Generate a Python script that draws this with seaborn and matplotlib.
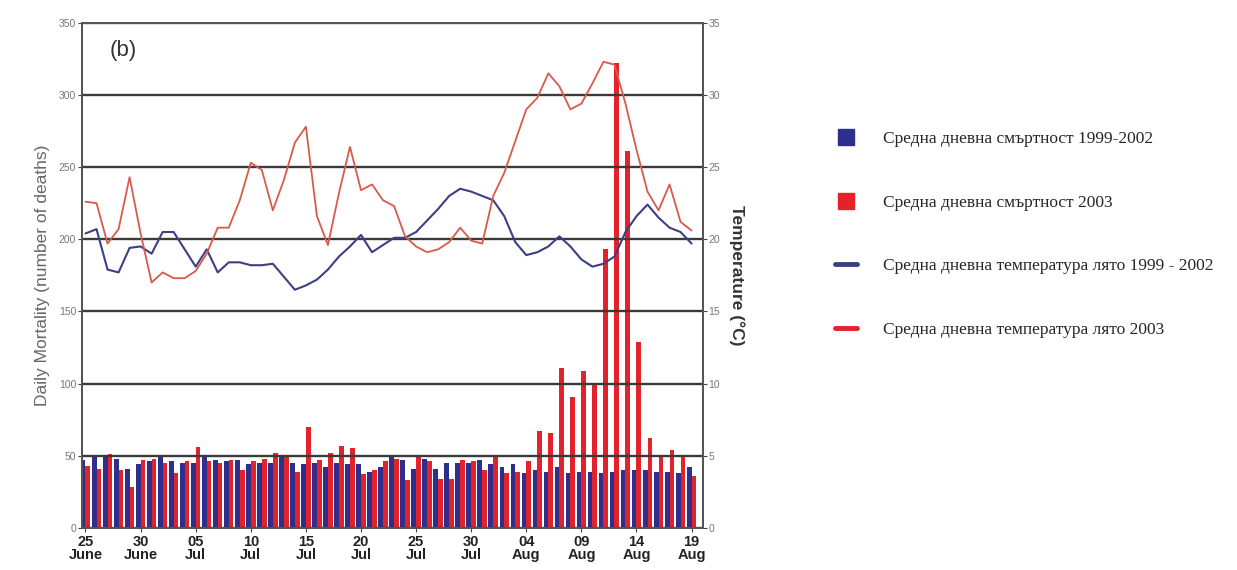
import numpy as np
import pandas as pd
import matplotlib
matplotlib.use('Agg')
import matplotlib.pyplot as plt
from matplotlib.lines import Line2D
import seaborn as sns

# daily values, 25 June .. 19 August
deaths_base = [47, 49, 49, 48, 41, 44, 46, 49, 46, 45, 45, 49, 47, 46, 47, 44,
               45, 45, 50, 45, 44, 45, 42, 45, 44, 44, 39, 42, 49, 47, 41, 48,
               41, 45, 45, 45, 47, 44, 42, 44, 38, 40, 39, 42, 38, 39, 39, 38,
               39, 40, 40, 40, 39, 39, 38, 42]
deaths_2003 = [43, 41, 51, 40, 28, 47, 48, 45, 38, 46, 56, 46, 45, 47, 40, 46,
               48, 52, 50, 39, 70, 47, 52, 57, 55, 37, 40, 46, 48, 33, 50, 46,
               34, 34, 47, 46, 40, 49, 38, 39, 46, 67, 66, 111, 91, 109, 99, 193,
               322, 261, 129, 62, 49, 54, 49, 36]
temp_base = [20.4, 20.7, 17.9, 17.7, 19.4, 19.5, 19.0, 20.5, 20.5, 19.3, 18.1,
             19.3, 17.7, 18.4, 18.4, 18.2, 18.2, 18.3, 17.4, 16.5, 16.8, 17.2,
             17.9, 18.8, 19.5, 20.3, 19.1, 19.6, 20.1, 20.1, 20.5, 21.3, 22.1,
             23.0, 23.5, 23.3, 23.0, 22.7, 21.6, 19.8, 18.9, 19.1, 19.5, 20.2,
             19.5, 18.6, 18.1, 18.3, 18.8, 20.5, 21.6, 22.4, 21.5, 20.8, 20.5,
             19.7]
temp_2003 = [22.6, 22.5, 19.7, 20.7, 24.3, 20.4, 17.0, 17.7, 17.3, 17.3, 17.8,
             19.0, 20.8, 20.8, 22.7, 25.3, 24.8, 22.0, 24.1, 26.7, 27.8, 21.6,
             19.6, 23.2, 26.4, 23.4, 23.8, 22.7, 22.3, 20.2, 19.5, 19.1, 19.3,
             19.8, 20.8, 19.9, 19.7, 23.0, 24.6, 26.8, 29.0, 29.8, 31.5, 30.6,
             29.0, 29.4, 30.8, 32.3, 32.1, 29.4, 26.2, 23.3, 22.0, 23.8, 21.2,
             20.6]
tick_days = [0, 5, 10, 15, 20, 25, 30, 35, 40, 45, 50, 55]
tick_labels = ['25\nJune', '30\nJune', '05\nJul', '10\nJul', '15\nJul', '20\nJul',
               '25\nJul', '30\nJul', '04\nAug', '09\nAug', '14\nAug', '19\nAug']
legend_labels = ['Средна дневна смъртност 1999-2002',
                 'Средна дневна смъртност 2003',
                 'Средна дневна температура лято 1999 - 2002',
                 'Средна дневна температура лято 2003']

navy = '#2e2f8c'
red = '#e3222b'
navy_line = '#3c3f86'
red_line = '#d85a4c'

days = np.arange(len(deaths_base))
bars = pd.DataFrame({
    'day': np.concatenate([days, days]),
    'deaths': deaths_base + deaths_2003,
    'series': ['base'] * len(days) + ['2003'] * len(days),
})

sns.set_style('white')
plt.rcParams['font.family'] = ['Liberation Sans', 'DejaVu Sans']

fig = plt.figure(figsize=(12.37, 5.70), dpi=100)
ax = fig.add_axes([0.066, 0.074, 0.502, 0.886])

sns.barplot(data=bars, x='day', y='deaths', hue='series',
            palette={'base': navy, '2003': red}, width=0.86, linewidth=0,
            saturation=1, legend=False, ax=ax)
# grid drawn over the bars, as in the original
ax.set_axisbelow(False)
ax.yaxis.grid(True, color='#3a3a3a', linewidth=1.7)
ax.set_ylim(0, 350)
ax.set_yticks(range(0, 351, 50))
ax.set_xlim(-0.35, 56.0)
ax.set_xticks(tick_days)
ax.set_xticklabels(tick_labels, fontsize=10.5, fontweight='bold', color='#222222',
                   linespacing=0.95)
ax.tick_params(axis='y', labelsize=7.5, labelcolor='#777777', length=3, left=True,
               color='#444444', pad=1)
ax.tick_params(axis='x', length=3, bottom=True, color='#444444', pad=2)
ax.set_xlabel('')
ax.set_ylabel('Daily Mortality (number of deaths)', fontsize=12.5, color='#666666',
              labelpad=6)
for side in ['left', 'right', 'top', 'bottom']:
    ax.spines[side].set_color('#555555')
    ax.spines[side].set_linewidth(1.4)
ax.text(0.045, 0.935, '(b)', transform=ax.transAxes, fontsize=16, color='#333333')

ax2 = ax.twinx()
sns.lineplot(x=days, y=temp_base, color=navy_line, linewidth=1.5, ax=ax2)
sns.lineplot(x=days, y=temp_2003, color=red_line, linewidth=1.3, ax=ax2)
ax2.set_ylim(0, 35)
ax2.set_yticks(range(0, 36, 5))
ax2.tick_params(axis='y', labelsize=7.5, labelcolor='#777777', length=3, right=True,
                color='#444444', pad=1)
ax2.set_ylabel('Temperature (°C)', fontsize=12.5, fontweight='bold', color='#333333',
               rotation=270, labelpad=18)
for side in ['left', 'right', 'top', 'bottom']:
    ax2.spines[side].set_color('#555555')
    ax2.spines[side].set_linewidth(1.4)

handles = [
    Line2D([], [], marker='s', linestyle='none', markersize=12, color=navy),
    Line2D([], [], marker='s', linestyle='none', markersize=12, color=red),
    Line2D([], [], color=navy_line, linewidth=3.5),
    Line2D([], [], color=red, linewidth=3.5),
]
fig.legend(handles, legend_labels, loc='upper left', bbox_to_anchor=(0.662, 0.797),
           frameon=False, handlelength=1.3, handletextpad=1.5, labelspacing=2.72,
           prop={'family': 'Liberation Serif', 'size': 12.5})

fig.savefig('out.png', dpi=100, facecolor='white')
